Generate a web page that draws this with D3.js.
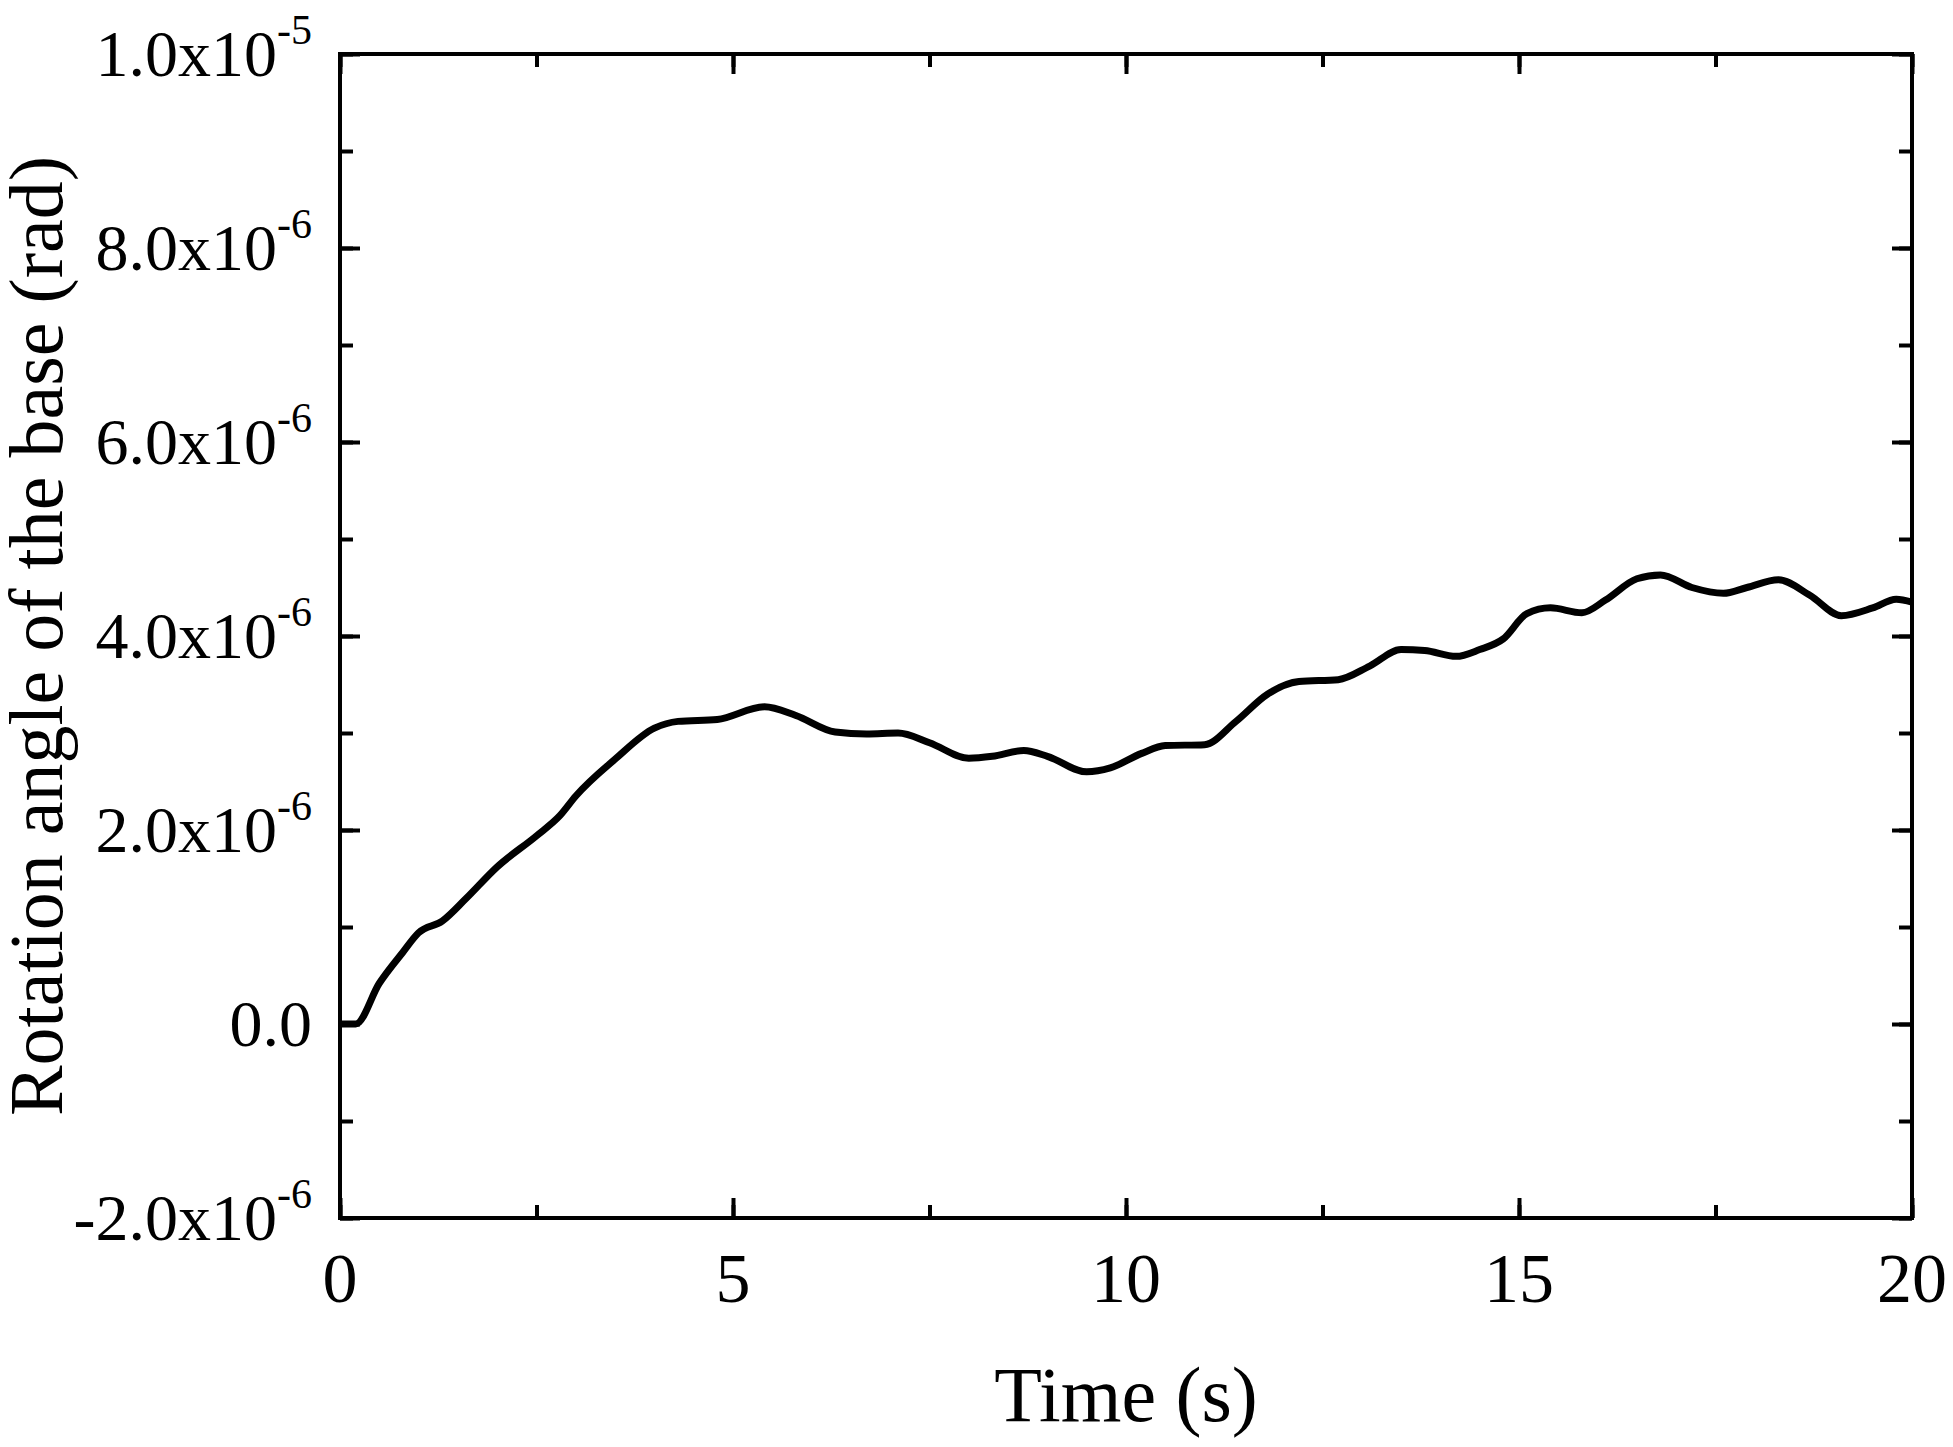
<!DOCTYPE html>
<html><head><meta charset="utf-8">
<script src="https://cdn.jsdelivr.net/npm/d3@7"></script>
<style>body{margin:0;background:#fff}text{font-family:"Liberation Serif","DejaVu Serif",serif;fill:#000}</style>
</head><body><svg id="chart" width="1953" height="1447"></svg>
<script>
const times = [0,0.2,0.5,0.8,1.0,1.3,1.6,2.0,2.5,2.8,3.0,3.5,4.0,4.3,4.8,5.4,5.8,6.3,6.7,7.1,7.5,8.0,8.3,8.7,9.0,9.5,9.8,10.2,10.5,11.0,11.4,11.8,12.2,12.7,13.1,13.5,13.8,14.2,14.5,14.8,15.1,15.4,15.8,16.1,16.5,16.8,17.2,17.6,17.9,18.3,18.7,19.1,19.5,19.8,20.0];
// rotation angle in units of 1e-6 rad
const angles = [0,0,0.42,0.74,0.94,1.06,1.29,1.62,1.94,2.15,2.35,2.73,3.05,3.12,3.14,3.27,3.18,3.01,2.99,3.0,2.9,2.74,2.76,2.82,2.76,2.6,2.64,2.79,2.87,2.88,3.12,3.4,3.53,3.55,3.69,3.86,3.85,3.79,3.86,3.97,4.23,4.29,4.24,4.37,4.59,4.63,4.5,4.44,4.5,4.58,4.42,4.21,4.29,4.38,4.35];
const yTicks = [-2,0,2,4,6,8,10];
const yTickLabels = [["-2.0x10","-6"],["0.0",""],["2.0x10","-6"],["4.0x10","-6"],["6.0x10","-6"],["8.0x10","-6"],["1.0x10","-5"]];
const xTicks = [0,5,10,15,20];

const margin = {top: 54, right: 41, bottom: 229, left: 340},
    width = 1953 - margin.left - margin.right,
    height = 1447 - margin.top - margin.bottom;

const x = d3.scaleLinear().domain([0, 20]).range([0, width]);
const y = d3.scaleLinear().domain([-2, 10]).range([height, 0]);

const chart = d3.select("#chart").append("g")
    .attr("transform", `translate(${margin.left}, ${margin.top})`);

const minorX = d3.range(0, 20.01, 2.5), minorY = d3.range(-2, 10.01, 1);
function ticks(axis, scale, vals, size) {
  return axis(scale).tickValues(vals).tickSize(size).tickFormat("");
}
const sw = 4;
[[d3.axisBottom, x, minorX, height, -13],[d3.axisBottom, x, xTicks, height, -20],
 [d3.axisTop, x, minorX, 0, -13],[d3.axisTop, x, xTicks, 0, -20]].forEach(([a,s,v,ty,sz]) => {
  chart.append("g").attr("transform", `translate(0,${ty})`).call(ticks(a,s,v,sz))
    .call(g => g.select(".domain").remove())
    .selectAll("line").attr("stroke", "#000").attr("stroke-width", sw);
});
[[d3.axisLeft, y, minorY, 0, -13],[d3.axisLeft, y, yTicks, 0, -20],
 [d3.axisRight, y, minorY, width, -13],[d3.axisRight, y, yTicks, width, -20]].forEach(([a,s,v,tx,sz]) => {
  chart.append("g").attr("transform", `translate(${tx},0)`).call(ticks(a,s,v,sz))
    .call(g => g.select(".domain").remove())
    .selectAll("line").attr("stroke", "#000").attr("stroke-width", sw);
});

chart.append("rect").attr("width", width).attr("height", height)
  .attr("fill", "none").attr("stroke", "#000").attr("stroke-width", sw);

chart.append("path").datum(times.map((t, i) => [t, angles[i]]))
  .attr("fill", "none").attr("stroke", "#000").attr("stroke-width", 7)
  .attr("d", d3.line().x(d => x(d[0])).y(d => y(d[1])).curve(d3.curveMonotoneX));

chart.selectAll(".xl").data(xTicks).enter().append("text")
  .attr("x", d => x(d)).attr("y", height + 84).attr("text-anchor", "middle")
  .attr("font-size", 70).text(d => d);

yTicks.forEach((v, i) => {
  const t = chart.append("text").attr("x", -28).attr("y", y(v) + 22)
    .attr("text-anchor", "end").attr("font-size", 66);
  t.append("tspan").text(yTickLabels[i][0]);
  if (yTickLabels[i][1]) t.append("tspan").attr("dy", -32).attr("font-size", 42).text(yTickLabels[i][1]);
});

chart.append("text").attr("x", width / 2).attr("y", height + 203)
  .attr("text-anchor", "middle").attr("font-size", 78).text("Time (s)");
chart.append("text").attr("transform", `translate(${-278},${height / 2}) rotate(-90)`)
  .attr("text-anchor", "middle").attr("font-size", 76).text("Rotation angle of the base (rad)");
</script></body></html>
